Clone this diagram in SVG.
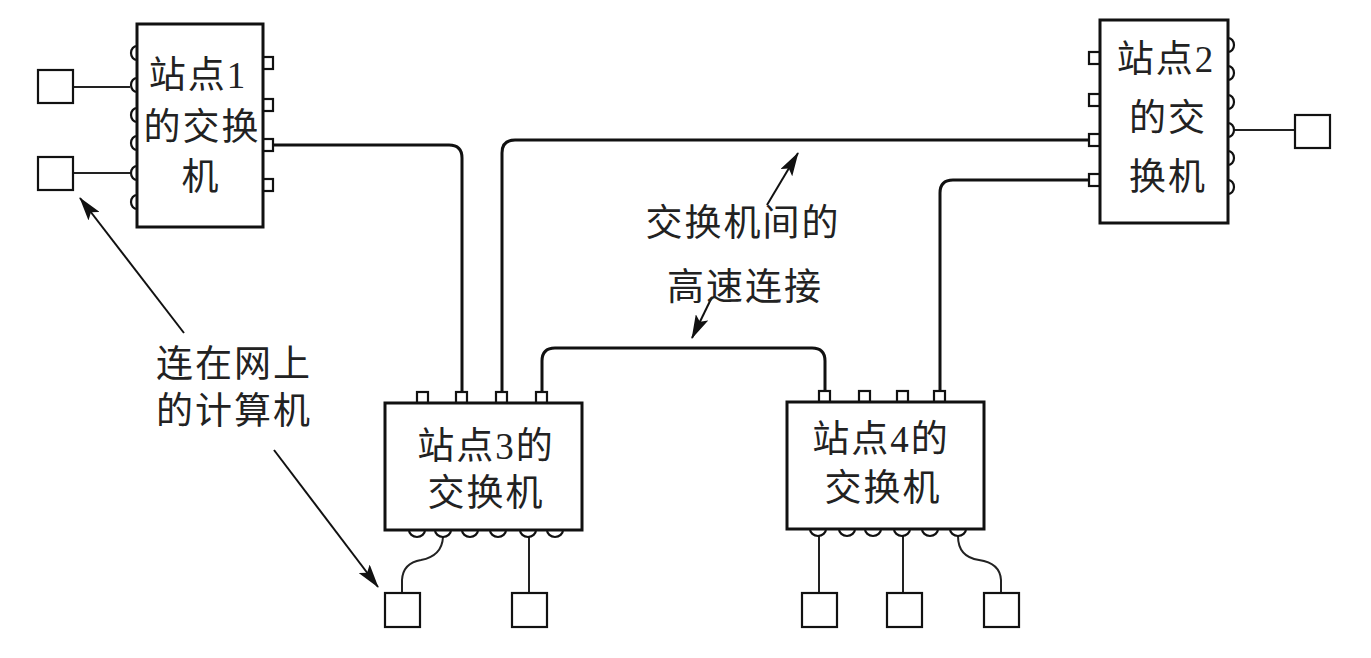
<svg xmlns="http://www.w3.org/2000/svg" width="1371" height="658" viewBox="0 0 1371 658">
<style>
.box{fill:#fff;stroke:#111;stroke-width:3}
.pc{fill:#fff;stroke:#111;stroke-width:2.2}
.port{fill:#fff;stroke:#111;stroke-width:2.2}
.link{fill:none;stroke:#111;stroke-width:3}
.wire{fill:none;stroke:#222;stroke-width:2}
.arr{fill:none;stroke:#111;stroke-width:2}
text{font-family:"Liberation Serif","Noto Sans CJK SC",serif;font-size:37px;fill:#222;text-anchor:middle;dominant-baseline:central;letter-spacing:2px}
</style>
<defs>
<marker id="ah" markerUnits="userSpaceOnUse" markerWidth="24" markerHeight="14" refX="23" refY="7" orient="auto">
<path d="M0,0 L24,7 L0,14 L5,7 z" fill="#111"/>
</marker>
</defs>
<rect width="1371" height="658" fill="#fff"/>

<g id="connectors">
<path class="link" d="M273,145 H449 Q462,145 462,158 V392"/>
<path class="link" d="M1089,140 H515 Q502,140 502,153 V392"/>
<path class="link" d="M1089,180 H953 Q940,180 940,193 V391"/>
<path class="link" d="M542,392 V361 Q542,348 555,348 H812 Q825,348 825,361 V391"/>
<path class="wire" d="M73,87 H130"/>
<path class="wire" d="M73,173 H130"/>
<path class="wire" d="M1234,130 H1295"/>
<path class="wire" d="M443,537 Q442,556 421,560 Q403,563 402,580 V593"/>
<path class="wire" d="M529,537 V593"/>
<path class="wire" d="M819,536 V593"/>
<path class="wire" d="M903,536 V593"/>
<path class="wire" d="M958,536 Q958,557 979,560 Q1000,563 1001,580 V593"/>
<path class="arr" d="M184,333 L80,198" marker-end="url(#ah)"/>
<path class="arr" d="M274,450 L378,587" marker-end="url(#ah)"/>
<path class="arr" d="M767,205 L798,153" marker-end="url(#ah)"/>
<path class="arr" d="M712,297 L692,338" marker-end="url(#ah)"/>
</g>

<g id="switch1">
<path class="port" d="M137,46 A6,7 0 0 0 137,60 M137,78 A6,7 0 0 0 137,92 M137,108 A6,7 0 0 0 137,122 M137,136 A6,7 0 0 0 137,150 M137,166 A6,7 0 0 0 137,180 M137,195 A6,7 0 0 0 137,209"/>
<rect class="port" x="262" y="57" width="11" height="12"/>
<rect class="port" x="262" y="99" width="11" height="12"/>
<rect class="port" x="262" y="139" width="11" height="12"/>
<rect class="port" x="262" y="179" width="11" height="12"/>
<rect class="box" x="137" y="24" width="126" height="203"/>
<text x="198" y="75">站点1</text>
<text x="202" y="127">的交换</text>
<text x="201" y="177">机</text>
</g>

<g id="switch2">
<rect class="port" x="1089" y="52" width="11" height="12"/>
<rect class="port" x="1089" y="94" width="11" height="12"/>
<rect class="port" x="1089" y="134" width="11" height="12"/>
<rect class="port" x="1089" y="174" width="11" height="12"/>
<path class="port" d="M1228,38 A6,7 0 0 1 1228,52 M1228,66 A6,7 0 0 1 1228,80 M1228,95 A6,7 0 0 1 1228,109 M1228,123 A6,7 0 0 1 1228,137 M1228,151 A6,7 0 0 1 1228,165 M1228,180 A6,7 0 0 1 1228,194"/>
<rect class="box" x="1100" y="20" width="128" height="203"/>
<text x="1166" y="59">站点2</text>
<text x="1168" y="118">的交</text>
<text x="1168" y="177">换机</text>
</g>

<g id="switch3">
<rect class="port" x="417" y="392" width="11" height="11"/>
<rect class="port" x="456" y="392" width="11" height="11"/>
<rect class="port" x="496" y="392" width="11" height="11"/>
<rect class="port" x="536" y="392" width="11" height="11"/>
<path class="port" d="M409,530 A8,7 0 0 0 425,530 M435,530 A8,7 0 0 0 451,530 M462,530 A8,7 0 0 0 478,530 M490,530 A8,7 0 0 0 506,530 M520,530 A8,7 0 0 0 536,530 M547,530 A8,7 0 0 0 563,530"/>
<rect class="box" x="385" y="403" width="197" height="127"/>
<text x="486" y="446">站点3的</text>
<text x="486" y="493">交换机</text>
</g>

<g id="switch4">
<rect class="port" x="819" y="391" width="11" height="11"/>
<rect class="port" x="859" y="391" width="11" height="11"/>
<rect class="port" x="897" y="391" width="11" height="11"/>
<rect class="port" x="934" y="391" width="11" height="11"/>
<path class="port" d="M810,529 A8,7 0 0 0 826,529 M839,529 A8,7 0 0 0 855,529 M865,529 A8,7 0 0 0 881,529 M894,529 A8,7 0 0 0 910,529 M922,529 A8,7 0 0 0 938,529 M950,529 A8,7 0 0 0 966,529"/>
<rect class="box" x="787" y="402" width="197" height="127"/>
<text x="881" y="439">站点4的</text>
<text x="883" y="488">交换机</text>
</g>

<g id="pc1"><rect class="pc" x="38" y="70" width="35" height="33"/></g>
<g id="pc2"><rect class="pc" x="38" y="157" width="35" height="33"/></g>
<g id="pc3"><rect class="pc" x="1295" y="115" width="35" height="33"/></g>
<g id="pc4"><rect class="pc" x="385" y="593" width="35" height="34"/></g>
<g id="pc5"><rect class="pc" x="512" y="593" width="35" height="34"/></g>
<g id="pc6"><rect class="pc" x="802" y="593" width="35" height="34"/></g>
<g id="pc7"><rect class="pc" x="887" y="593" width="35" height="34"/></g>
<g id="pc8"><rect class="pc" x="984" y="593" width="35" height="34"/></g>

<g id="label-link">
<text x="743" y="223">交换机间的</text>
<text x="745" y="287">高速连接</text>
</g>
<g id="label-pc">
<text x="234" y="364">连在网上</text>
<text x="234" y="411">的计算机</text>
</g>
</svg>
